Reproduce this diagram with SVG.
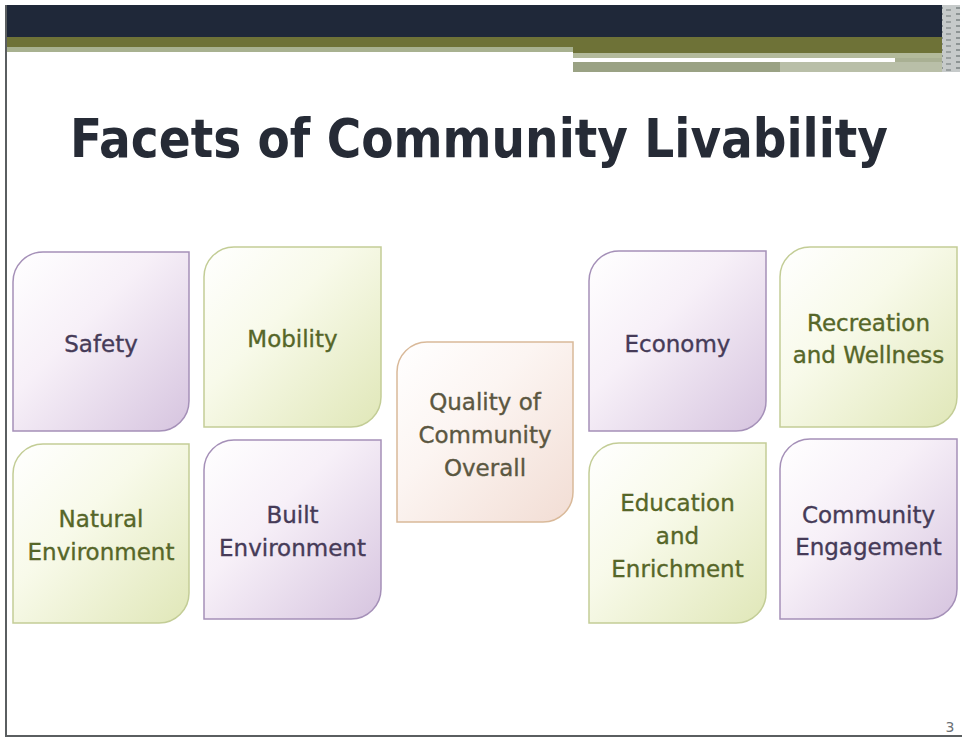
<svg xmlns="http://www.w3.org/2000/svg" width="962" height="738" viewBox="0 0 962 738">
<defs>
<linearGradient id="gPurple" x1="0" y1="0" x2="1" y2="1">
<stop offset="0" stop-color="#ffffff"/><stop offset="0.4" stop-color="#f7f0f8"/><stop offset="1" stop-color="#d6c4df"/>
</linearGradient>
<linearGradient id="gGreen" x1="0" y1="0" x2="1" y2="1">
<stop offset="0" stop-color="#ffffff"/><stop offset="0.4" stop-color="#f8faea"/><stop offset="1" stop-color="#e0e7b8"/>
</linearGradient>
<linearGradient id="gPeach" x1="0" y1="0" x2="1" y2="1">
<stop offset="0" stop-color="#ffffff"/><stop offset="0.4" stop-color="#fcf5f2"/><stop offset="1" stop-color="#f2ddd4"/>
</linearGradient>
<pattern id="pStrip" width="18" height="6" patternUnits="userSpaceOnUse">
<rect width="18" height="6" fill="#c6caca"/><rect x="2" y="1" width="5" height="2" fill="#8d9494"/><rect x="10" y="3" width="5" height="2" fill="#9aa0a0"/>
</pattern>
</defs>
<style>
.purple{fill:url(#gPurple);stroke:#a590b8;stroke-width:1.5}
.green{fill:url(#gGreen);stroke:#c3cd96;stroke-width:1.5}
.peach{fill:url(#gPeach);stroke:#d9b999;stroke-width:1.5}
.lbl{font-family:"DejaVu Sans","Verdana",sans-serif;font-size:23px;text-anchor:middle;stroke-width:0.35}
.tp{fill:#463b58;stroke:#463b58}
.tg{fill:#566628;stroke:#566628}
.tq{fill:#5b5741;stroke:#5b5741}
.title{font-family:"DejaVu Sans Condensed","DejaVu Sans",sans-serif;font-weight:bold;font-size:54px;fill:#262b36}
</style>
<rect x="0" y="0" width="962" height="738" fill="#ffffff"/>
<g id="header">
<rect x="6" y="5" width="936" height="32" fill="#1f2839"/>
<rect x="6" y="37" width="936" height="10" fill="#6e7237"/>
<rect x="573" y="47" width="369" height="6" fill="#6e7237"/>
<rect x="6" y="47" width="567" height="5" fill="#a8b190"/>
<rect x="573" y="53" width="369" height="5" fill="#b3ba9b"/>
<rect x="573" y="58" width="322" height="4" fill="#ffffff"/>
<rect x="895" y="58" width="47" height="4" fill="#a9b093"/>
<rect x="573" y="62" width="207" height="10" fill="#9aa284"/>
<rect x="780" y="62" width="162" height="10" fill="#b9bfa8"/>
<rect x="942" y="5" width="18" height="67" fill="url(#pStrip)"/>
</g>
<g id="frame" fill="none" stroke="#5a5e60" stroke-width="2">
<path d="M6 5 V736 H962"/>
</g>
<text class="title" x="70" y="157" textLength="818" lengthAdjust="spacingAndGlyphs">Facets of Community Livability</text>
<g id="connectors"/>
<g id="safety">
<path class="purple" d="M43 252 H189 V401 A30 30 0 0 1 159 431 H13 V282 A30 30 0 0 1 43 252 Z"/>
<text class="lbl tp" x="101" y="352">Safety</text>
</g>
<g id="mobility">
<path class="green" d="M234 247 H381 V397 A30 30 0 0 1 351 427 H204 V277 A30 30 0 0 1 234 247 Z"/>
<text class="lbl tg" x="292.5" y="347">Mobility</text>
</g>
<g id="natural-environment">
<path class="green" d="M43 444 H189 V593 A30 30 0 0 1 159 623 H13 V474 A30 30 0 0 1 43 444 Z"/>
<text class="lbl tg" x="101" y="527">Natural</text>
<text class="lbl tg" x="101" y="560">Environment</text>
</g>
<g id="built-environment">
<path class="purple" d="M234 440 H381 V589 A30 30 0 0 1 351 619 H204 V470 A30 30 0 0 1 234 440 Z"/>
<text class="lbl tp" x="292.5" y="523">Built</text>
<text class="lbl tp" x="292.5" y="556">Environment</text>
</g>
<g id="quality">
<path class="peach" d="M427 342 H573 V492 A30 30 0 0 1 543 522 H397 V372 A30 30 0 0 1 427 342 Z"/>
<text class="lbl tq" x="485" y="410">Quality of</text>
<text class="lbl tq" x="485" y="443">Community</text>
<text class="lbl tq" x="485" y="476">Overall</text>
</g>
<g id="economy">
<path class="purple" d="M619 251 H766 V401 A30 30 0 0 1 736 431 H589 V281 A30 30 0 0 1 619 251 Z"/>
<text class="lbl tp" x="677.5" y="352">Economy</text>
</g>
<g id="recreation">
<path class="green" d="M810 247 H957 V397 A30 30 0 0 1 927 427 H780 V277 A30 30 0 0 1 810 247 Z"/>
<text class="lbl tg" x="868.5" y="331">Recreation</text>
<text class="lbl tg" x="868.5" y="363">and Wellness</text>
</g>
<g id="education">
<path class="green" d="M619 443 H766 V593 A30 30 0 0 1 736 623 H589 V473 A30 30 0 0 1 619 443 Z"/>
<text class="lbl tg" x="677.5" y="511">Education</text>
<text class="lbl tg" x="677.5" y="544">and</text>
<text class="lbl tg" x="677.5" y="577">Enrichment</text>
</g>
<g id="community-engagement">
<path class="purple" d="M810 439 H957 V589 A30 30 0 0 1 927 619 H780 V469 A30 30 0 0 1 810 439 Z"/>
<text class="lbl tp" x="868.5" y="523">Community</text>
<text class="lbl tp" x="868.5" y="555">Engagement</text>
</g>
<text x="950" y="732" font-family="DejaVu Sans, sans-serif" font-size="14" fill="#6a6f74" text-anchor="middle">3</text>
</svg>
